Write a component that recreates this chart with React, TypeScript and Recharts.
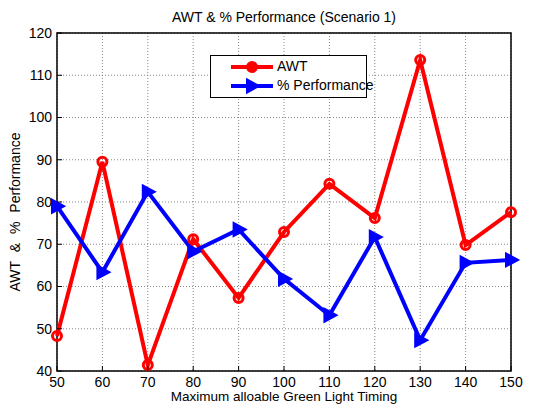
import { CartesianGrid, Line, LineChart, ReferenceArea, XAxis, YAxis } from "recharts";

const TIMINGS = [50, 60, 70, 80, 90, 100, 110, 120, 130, 140, 150];
const AWT = [48.3, 89.5, 41.4, 71.2, 57.3, 72.9, 84.3, 76.2, 113.6, 69.8, 77.6];
const PERFORMANCE = [79, 63.4, 82.4, 68.3, 73.5, 61.8, 53.2, 71.7, 47.3, 65.6, 66.3];
const X_TICKS = [50, 60, 70, 80, 90, 100, 110, 120, 130, 140, 150];
const Y_TICKS = [40, 50, 60, 70, 80, 90, 100, 110, 120];

const data = TIMINGS.map((t, i) => ({ t, awt: AWT[i], perf: PERFORMANCE[i] }));

const FONT = "Arial, 'Liberation Sans', sans-serif";

const Circle = (props: any) => {
    const { cx, cy, key } = props;
    return <circle key={key} cx={cx} cy={cy} r={4.5} fill="none" stroke="#ff0000" strokeWidth={3} />;
};

const Triangle = (props: any) => {
    const { cx, cy, key } = props;
    return (
        <path
            key={key}
            d={`M${cx + 7},${cy} L${cx - 5},${cy - 6.5} L${cx - 5},${cy + 6.5} Z`}
            fill="#0000ff"
            stroke="#0000ff"
            strokeWidth={2}
        />
    );
};

const BottomTick = ({ x, y, payload }: any) => (
    <g>
        <line x1={x} x2={x} y1={y - 6} y2={y - 11} stroke="#000" />
        <text x={x} y={y} dy="0.71em" textAnchor="middle" fontSize={14} fontFamily={FONT} fill="#000">
            {payload.value}
        </text>
    </g>
);

const LeftTick = ({ x, y, payload }: any) => (
    <g>
        <line x1={x + 5} x2={x + 10} y1={y} y2={y} stroke="#000" />
        <text x={x} y={y} dy="0.355em" textAnchor="end" fontSize={14} fontFamily={FONT} fill="#000">
            {payload.value}
        </text>
    </g>
);

const TopTick = ({ x, y }: any) => <line x1={x} x2={x} y1={y} y2={y + 5} stroke="#000" />;
const RightTick = ({ x, y }: any) => <line x1={x} x2={x - 5} y1={y} y2={y} stroke="#000" />;

export default function App() {
    return (
        <div style={{ position: "absolute", left: 0, top: 0, width: 550, height: 408, background: "#fff", fontFamily: FONT }}>
            <div style={{ position: "absolute", left: 57, width: 454, top: 9, textAlign: "center", fontSize: 14, whiteSpace: "nowrap" }}>
                AWT &amp; % Performance (Scenario 1)
            </div>
            <div
                style={{
                    position: "absolute",
                    left: 15,
                    top: 212,
                    fontSize: 14,
                    wordSpacing: 5,
                    whiteSpace: "nowrap",
                    transform: "translate(-50%, -50%) rotate(-90deg)",
                }}
            >
                AWT &amp; % Performance
            </div>
            <div style={{ position: "absolute", left: 57, width: 454, top: 389, textAlign: "center", fontSize: 13.5, whiteSpace: "nowrap" }}>
                Maximum alloable Green Light Timing
            </div>
            <LineChart width={550} height={408} data={data} margin={{ top: 33, right: 39, bottom: 7, left: 17 }}>
                <CartesianGrid stroke="#888" strokeDasharray="1 2" />
                <XAxis
                    dataKey="t"
                    type="number"
                    domain={[50, 150]}
                    ticks={X_TICKS}
                    height={30}
                    tickSize={0}
                    tickMargin={6}
                    axisLine={false}
                    tick={<BottomTick />}
                    interval={0}
                />
                <XAxis
                    xAxisId="top"
                    orientation="top"
                    dataKey="t"
                    type="number"
                    domain={[50, 150]}
                    ticks={X_TICKS}
                    height={0}
                    tickSize={0}
                    tickMargin={0}
                    axisLine={false}
                    tick={<TopTick />}
                    interval={0}
                />
                <YAxis
                    type="number"
                    domain={[40, 120]}
                    ticks={Y_TICKS}
                    width={40}
                    tickSize={0}
                    tickMargin={5}
                    axisLine={false}
                    tick={<LeftTick />}
                    interval={0}
                />
                <YAxis
                    yAxisId="right"
                    orientation="right"
                    type="number"
                    domain={[40, 120]}
                    ticks={Y_TICKS}
                    width={0}
                    tickSize={0}
                    tickMargin={0}
                    axisLine={false}
                    tick={<RightTick />}
                    interval={0}
                />
                <Line dataKey="awt" stroke="#ff0000" strokeWidth={4} dot={<Circle />} activeDot={false} isAnimationActive={false} />
                <Line dataKey="perf" stroke="#0000ff" strokeWidth={4} dot={<Triangle />} activeDot={false} isAnimationActive={false} />
                <ReferenceArea x1={50} x2={150} y1={40} y2={120} fill="none" stroke="#000" strokeWidth={1.5} ifOverflow="visible" />
            </LineChart>
            <div
                style={{
                    position: "absolute",
                    left: 210,
                    top: 55,
                    width: 155,
                    height: 41,
                    border: "1px solid #000",
                    background: "#fff",
                    fontSize: 14,
                    whiteSpace: "nowrap",
                }}
            >
                <svg width={64} height={41} style={{ position: "absolute", left: 0, top: 0 }}>
                    <line x1={20} x2={62} y1={11} y2={11} stroke="#ff0000" strokeWidth={4} />
                    <circle cx={41} cy={11} r={4.5} fill="#ff0000" stroke="#ff0000" strokeWidth={3} />
                    <line x1={20} x2={62} y1={30} y2={30} stroke="#0000ff" strokeWidth={4} />
                    <path d="M48,30 L36,23.5 L36,36.5 Z" fill="#0000ff" stroke="#0000ff" strokeWidth={2} />
                </svg>
                <div style={{ position: "absolute", left: 66, top: 2 }}>AWT</div>
                <div style={{ position: "absolute", left: 66, top: 21 }}>% Performance</div>
            </div>
        </div>
    );
}
